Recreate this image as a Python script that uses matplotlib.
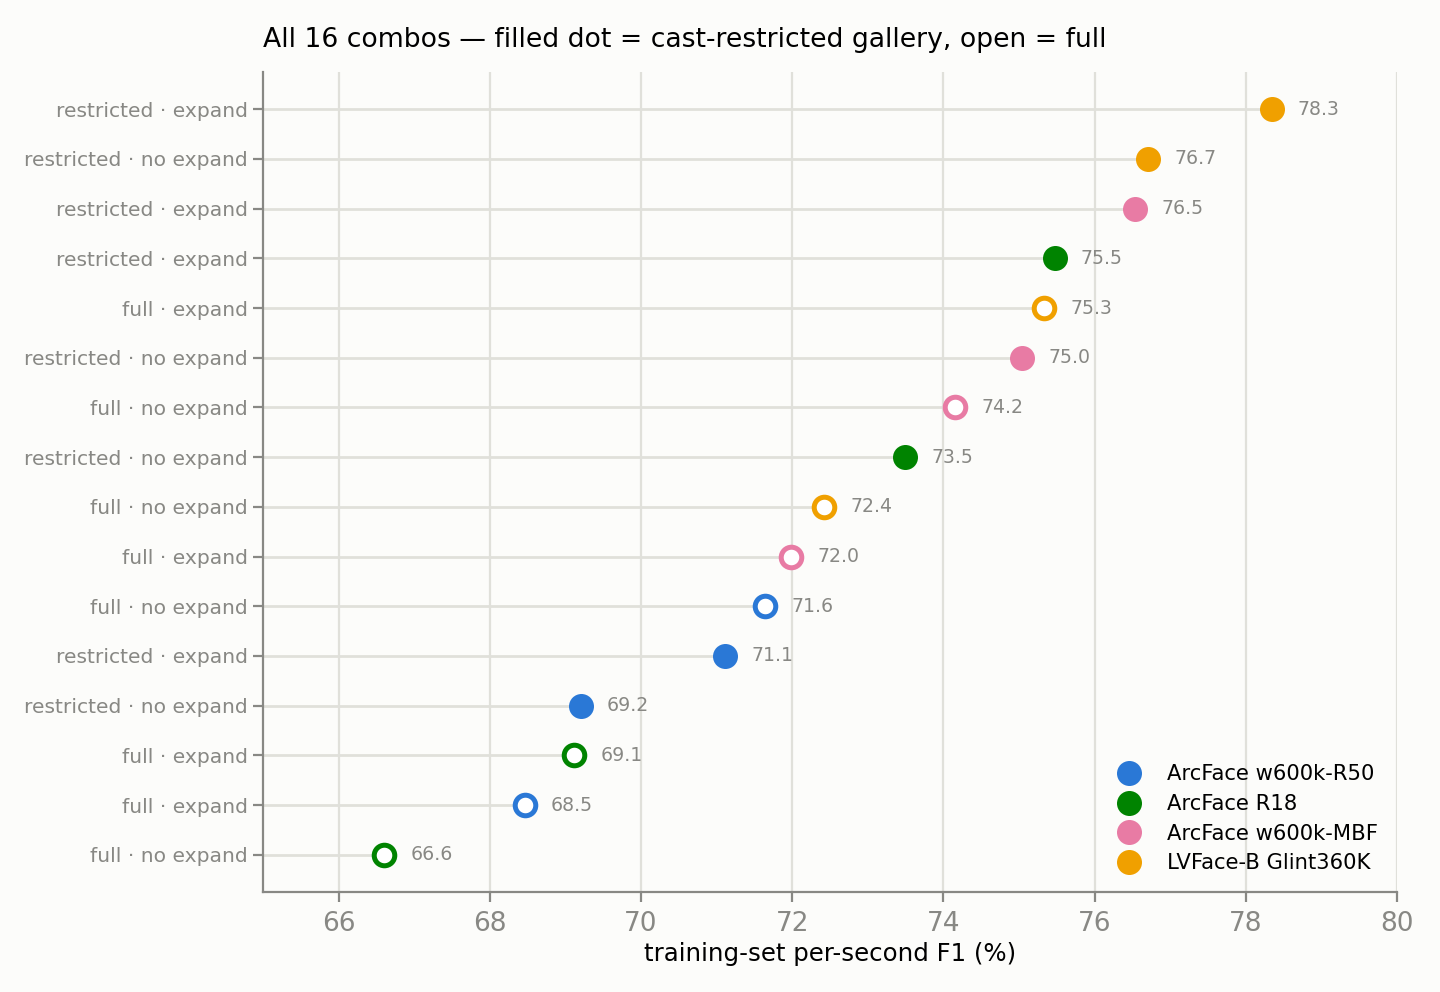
import matplotlib
matplotlib.use('Agg')
import matplotlib.pyplot as plt
from matplotlib.lines import Line2D

# rows from bottom to top
labels = ['full · no expand', 'full · expand', 'full · expand', 'restricted · no expand',
          'restricted · expand', 'full · no expand', 'full · expand', 'full · no expand',
          'restricted · no expand', 'full · no expand', 'restricted · no expand', 'full · expand',
          'restricted · expand', 'restricted · expand', 'restricted · no expand', 'restricted · expand']
scores = [66.60, 68.46, 69.12, 69.20, 71.11, 71.64, 71.98, 72.42,
          73.49, 74.16, 75.04, 75.33, 75.47, 76.53, 76.71, 78.34]
models = ['R18', 'R50', 'R18', 'R50', 'R50', 'R50', 'MBF', 'LV',
          'R18', 'MBF', 'MBF', 'LV', 'R18', 'MBF', 'LV', 'LV']
restricted = [False, False, False, True, True, False, False, False,
              True, False, True, False, True, True, True, True]

model_names = {'R50': 'ArcFace w600k-R50', 'R18': 'ArcFace R18',
               'MBF': 'ArcFace w600k-MBF', 'LV': 'LVFace-B Glint360K'}
colors = {'R50': '#2a78d6', 'R18': '#008300', 'MBF': '#e87ba4', 'LV': '#f0a000'}

bg = '#fcfcfa'
grey = '#888884'

fig, ax = plt.subplots(figsize=(7.2, 4.96), dpi=200)
fig.patch.set_facecolor(bg)
ax.set_facecolor(bg)

y = list(range(len(scores)))
ax.hlines(y, 65, scores, color='#e0e0da', lw=1.0, zorder=1)
for yi, v, m, r in zip(y, scores, models, restricted):
    c = colors[m]
    if r:
        ax.plot(v, yi, 'o', ms=8, color=c, mec=c, zorder=3)
    else:
        ax.plot(v, yi, 'o', ms=7.4, mfc='white', mec=c, mew=1.8, zorder=3)
    ax.text(v + 0.35, yi, f'{v:.1f}', va='center', ha='left', fontsize=6.8, color=grey)

ax.set_xlim(65, 80)
ax.set_yticks(y)
ax.set_yticklabels(labels)
ax.tick_params(axis='y', labelsize=7.3, colors=grey, pad=2)
ax.tick_params(axis='x', labelsize=9.5, colors=grey)
ax.grid(axis='x', color='#e0e0da', lw=0.8, zorder=0)
ax.set_axisbelow(True)
for s in ['top', 'right']:
    ax.spines[s].set_visible(False)
for s in ['left', 'bottom']:
    ax.spines[s].set_color(grey)
    ax.spines[s].set_linewidth(0.8)

ax.set_xlabel('training-set per-second F1 (%)', fontsize=8.8, labelpad=1.5)
ax.set_title('All 16 combos — filled dot = cast-restricted gallery, open = full',
             loc='left', fontsize=9.6, pad=9)

handles = [Line2D([], [], marker='o', ls='', ms=8, color=colors[k], label=model_names[k])
           for k in ['R50', 'R18', 'MBF', 'LV']]
ax.legend(handles=handles, loc='lower right', frameon=False, fontsize=7.6,
          handletextpad=0.8, labelspacing=0.45)

fig.subplots_adjust(left=263/1440, right=1397/1440, top=1 - 72/992, bottom=1 - 892/992)
fig.savefig('out.png', dpi=200, facecolor=bg)
